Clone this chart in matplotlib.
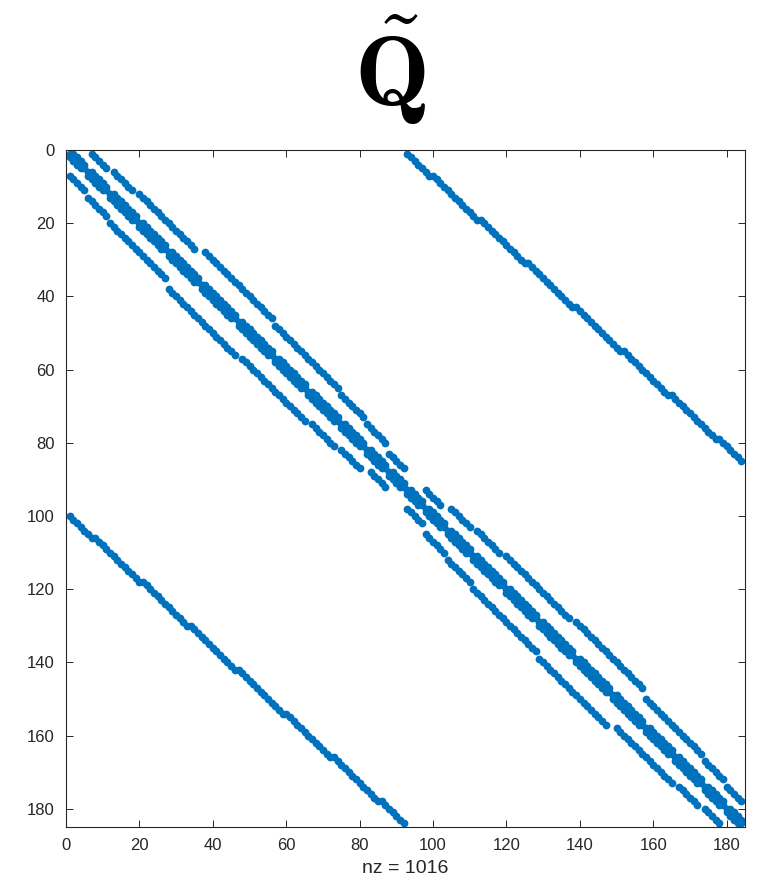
import numpy as np
import matplotlib.pyplot as plt

# grid rows of one 92-node block (row lengths, centred rows)
row_lengths = [5, 6, 8, 8, 9, 10, 10, 9, 9, 7, 6, 5]
block_size = 92
n = 2 * block_size

# coupling block: rows of block 1 that pick up two columns of block 2
coupling_last_row = 84
coupling_double_rows = [6, 18, 30, 42, 54, 66, 78]

tick_values = list(range(0, 181, 20))


def block_pattern(lengths):
    starts = np.concatenate([[0], np.cumsum(lengths)])
    xstart = [-(L // 2) for L in lengths]
    index = {}
    for r, L in enumerate(lengths):
        for k in range(L):
            index[(r, xstart[r] + k)] = starts[r] + k
    rows, cols = [], []
    for (r, x), i in index.items():
        for (dr, dx) in [(0, 0), (0, 1), (0, -1), (1, 0), (-1, 0)]:
            j = index.get((r + dr, x + dx))
            if j is not None:
                rows.append(i)
                cols.append(j)
    return np.array(rows), np.array(cols)


def coupling_pattern():
    rows = []
    for r in range(coupling_last_row + 1):
        rows.append(r)
        if r in coupling_double_rows:
            rows.append(r)
    rows = np.array(rows[:block_size])
    cols = block_size + np.arange(len(rows))
    return rows, cols


r1, c1 = block_pattern(row_lengths)
# second block is the first one turned half a turn
r2 = block_size + (block_size - 1 - r1)
c2 = block_size + (block_size - 1 - c1)
ru, cu = coupling_pattern()
# lower-left coupling is the upper-right one turned half a turn
rl = n - 1 - ru
cl = n - 1 - cu

rows = np.concatenate([r1, r2, ru, rl])
cols = np.concatenate([c1, c2, cu, cl])
nz = len(set(zip(rows.tolist(), cols.tolist())))

plt.rcParams['mathtext.fontset'] = 'cm'
fig = plt.figure(figsize=(7.66, 8.86), dpi=100)
ax = fig.add_axes([66 / 766, 59 / 886, 679 / 766, 677 / 886])

# spy-style: 1-based positions, limits 0..n+1
ax.plot(cols + 1, rows + 1, 'o', color='#0072BD', ms=5.6, mew=0)
ax.set_xlim(0, n + 1)
ax.set_ylim(n + 1, 0)
ax.set_xticks(tick_values)
ax.set_yticks(tick_values)
ax.tick_params(direction='in', top=True, right=True, length=5, width=0.7,
               colors='#262626', labelsize=12, pad=8)
for lab in ax.get_xticklabels() + ax.get_yticklabels():
    lab.set_fontfamily('Liberation Sans')
for s in ax.spines.values():
    s.set_color('#262626')
    s.set_linewidth(0.8)
ax.set_xlabel(f'nz = {nz}', fontsize=14, family='Liberation Sans',
              color='#262626', labelpad=5)

fig.text(390 / 766, 1 - 70 / 886, r'$\tilde{\mathbf{Q}}$', fontsize=72,
         ha='center', va='center')

fig.savefig('out.png')
